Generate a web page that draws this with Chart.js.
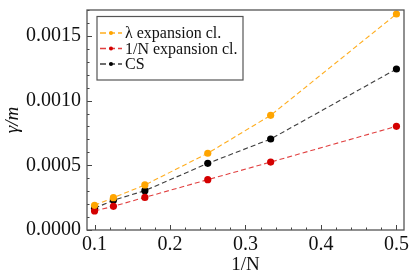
<!DOCTYPE html>
<html><head><meta charset="utf-8">
<script src="https://cdn.jsdelivr.net/npm/chart.js@4/dist/chart.umd.min.js"></script>
<style>html,body{margin:0;padding:0;background:#fff;overflow:hidden}#wrap{width:415px;height:277px}</style>
</head><body><div id="wrap"><canvas id="c" width="415" height="277"></canvas></div>
<script>
const invN = [0.1, 0.125, 1/6, 0.25, 1/3, 0.5];
const lambdaExp = [0.000191, 0.000250, 0.000348, 0.000593, 0.000886, 0.001669];
const invNExp = [0.000147, 0.000183, 0.000252, 0.000389, 0.000525, 0.000801];
const csVals = [0.000168, 0.000230, 0.000304, 0.000515, 0.000703, 0.001244];
const seriesLabels = ['λ expansion cl.', '1/N expansion cl.', 'CS'];
const xTicks = [0.1, 0.2, 0.3, 0.4, 0.5];
const yTicks = [0, 0.0005, 0.0010, 0.0015];
const xLabel = '1/N';
const yLabel = 'γ/m';

const SERIF = '"Liberation Serif", "DejaVu Serif", serif';
const colors = [
  {line: 'rgba(255,170,20,0.95)', pt: '#ffa500'},
  {line: 'rgba(220,30,30,0.85)', pt: '#d40000'},
  {line: 'rgba(40,40,40,0.9)', pt: '#000000'}
];
const seriesVals = [lambdaExp, invNExp, csVals];

const datasets = seriesVals.map((vals, i) => ({
  label: seriesLabels[i],
  data: invN.map((x, j) => ({x: x, y: vals[j]})),
  borderColor: colors[i].line,
  backgroundColor: colors[i].pt,
  pointBackgroundColor: colors[i].pt,
  pointBorderColor: colors[i].pt,
  pointRadius: 3.6,
  pointBorderWidth: 0,
  borderWidth: 1.1,
  borderDash: [5, 3],
  tension: 0,
  fill: false,
  clip: false
}));

function zeroPad(s) { s.paddingTop = 0; s.paddingBottom = 0; s.paddingLeft = 0; s.paddingRight = 0; }

const framePlugin = {
  id: 'frame',
  beforeDatasetsDraw(chart) {
    const {ctx, chartArea: a, scales} = chart;
    ctx.save();
    ctx.strokeStyle = '#444';
    ctx.lineWidth = 1;
    for (let i = 0; i <= 17; i++) {
      const v = i * 0.0001;
      const y = Math.round(scales.y.getPixelForValue(v)) + 0.5;
      const major = (i % 5 === 0);
      ctx.beginPath();
      ctx.moveTo(a.left, y);
      ctx.lineTo(a.left + (major ? 5 : 2.5), y);
      ctx.stroke();
    }
    for (let i = 5; i <= 25; i++) {
      const v = i * 0.02;
      const x = Math.round(scales.x.getPixelForValue(v)) + 0.5;
      const major = (i % 5 === 0);
      ctx.beginPath();
      ctx.moveTo(x, a.bottom);
      ctx.lineTo(x, a.bottom - (major ? 5 : 2.5));
      ctx.stroke();
    }
    ctx.restore();
  },
  afterDraw(chart) {
    const {ctx, chartArea: a} = chart;
    ctx.save();
    ctx.strokeStyle = '#555';
    ctx.lineWidth = 1.3;
    ctx.strokeRect(a.left, a.top, a.right - a.left, a.bottom - a.top);
    const bx = 97, by = 16.5, bw = 146, bh = 63.5;
    ctx.fillStyle = '#fff';
    ctx.fillRect(bx, by, bw, bh);
    ctx.strokeStyle = '#555';
    ctx.lineWidth = 1.2;
    ctx.strokeRect(bx, by, bw, bh);
    chart.data.datasets.forEach((ds, i) => {
      const y = 33 + i * 15.5;
      ctx.strokeStyle = ds.borderColor;
      ctx.lineWidth = 1.3;
      ctx.setLineDash([6, 3]);
      ctx.beginPath();
      ctx.moveTo(100, y);
      ctx.lineTo(122, y);
      ctx.stroke();
      ctx.setLineDash([]);
      ctx.fillStyle = ds.pointBackgroundColor;
      ctx.beginPath();
      ctx.arc(111, y, 2, 0, Math.PI * 2);
      ctx.fill();
      ctx.fillStyle = '#111';
      ctx.font = '16px ' + SERIF;
      ctx.textBaseline = 'middle';
      ctx.textAlign = 'left';
      ctx.fillText(ds.label, 125, y + 1);
    });
    ctx.restore();
  }
};

new Chart(document.getElementById('c'), {
  type: 'line',
  data: {datasets},
  options: {
    responsive: false,
    animation: false,
    layout: {padding: {top: 10, right: 11, left: 0, bottom: 0}},
    plugins: {legend: {display: false}, tooltip: {enabled: false}},
    scales: {
      x: {
        type: 'linear',
        min: 0.09, max: 0.51,
        afterBuildTicks: s => { s.ticks = xTicks.map(v => ({value: v})); },
        afterFit: s => { s.height = 47; zeroPad(s); },
        grid: {display: false, drawTicks: false},
        border: {display: false},
        ticks: {
          padding: 3, color: '#111', maxRotation: 0,
          font: {family: SERIF, size: 20},
          callback: v => v.toFixed(1)
        },
        title: {display: true, text: xLabel, color: '#111',
          font: {family: SERIF, size: 19}, padding: {top: 0, bottom: 1}}
      },
      y: {
        type: 'linear',
        min: 0, max: 0.0017,
        afterBuildTicks: s => { s.ticks = yTicks.map(v => ({value: v})); },
        afterFit: s => { s.width = 87; zeroPad(s); },
        grid: {display: false, drawTicks: false},
        border: {display: false},
        ticks: {
          padding: 6, color: '#111',
          font: {family: SERIF, size: 20},
          callback: v => v.toFixed(4)
        },
        title: {display: true, text: yLabel, color: '#111',
          font: {family: SERIF, size: 19, style: 'italic'}, padding: {top: 2, bottom: 0}}
      }
    }
  },
  plugins: [framePlugin]
});
</script>
</body></html>
